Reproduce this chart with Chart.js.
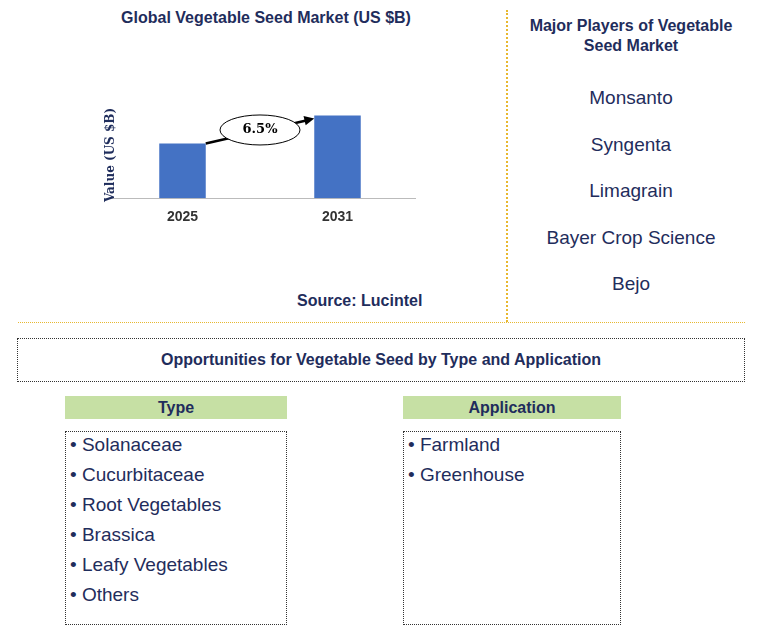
<!DOCTYPE html>
<html><head><meta charset="utf-8">
<script src="https://cdn.jsdelivr.net/npm/chart.js@4/dist/chart.umd.min.js"></script>
<style>
body{margin:0;width:759px;height:634px;position:relative;background:#fff;font-family:Arial,"Liberation Sans",sans-serif;overflow:hidden}
.a{position:absolute}
.t{color:#1f2d5c;font-weight:bold}
.list{border:1px dotted #333;box-sizing:border-box;padding:0 0 0 4px;font-size:19px;color:#1f2d5c;line-height:30px}
.list div{margin-top:-2px}
.hd{background:#c6e0a4;text-align:center;font-weight:bold;font-size:16px;color:#1f2d5c;line-height:23px}
.pl{width:250px;left:506px;text-align:center;font-size:19px;color:#1f2d5c}
</style></head><body>
<div class="a t" style="left:0;width:532px;top:9px;text-align:center;font-size:16px">Global Vegetable Seed Market (US $B)</div>
<div class="a" style="left:0;top:0;width:500px;height:240px"><canvas id="c"></canvas></div>
<div class="a" style="left:50px;top:148px;width:120px;transform:rotate(-90deg);font-family:'DejaVu Serif',serif;font-weight:bold;font-size:12px;color:#1f2d5c;text-align:center;white-space:nowrap">Value (US $B)</div>
<div class="a t" style="left:297px;top:292px;font-size:16px">Source: Lucintel</div>
<div class="a" style="left:506px;top:10px;height:312px;border-left:2px dotted #e8b830"></div>
<div class="a" style="left:18px;top:322px;width:727px;border-top:1px dotted #e8b830"></div>
<div class="a t" style="left:506px;width:250px;top:16px;text-align:center;font-size:16px;line-height:20px">Major Players of Vegetable<br>Seed Market</div>
<div class="a t" style="left:17px;top:338px;width:728px;height:44px;border:1px dotted #333;box-sizing:border-box;text-align:center;line-height:42px;font-size:16px">Opportunities for Vegetable Seed by Type and Application</div>
<div class="a hd" style="left:65px;top:396px;width:222px">Type</div>
<div class="a hd" style="left:403px;top:396px;width:218px">Application</div>
<div class="a list" style="left:65px;top:431px;width:222px;height:194px"><div id="types"></div></div>
<div class="a list" style="left:403px;top:431px;width:218px;height:194px"><div id="apps"></div></div>
<script>
const years = ["2025", "2031"];
const marketValues = [3.9, 5.9];
const cagrLabel = "6.5%";
const players = ["Monsanto", "Syngenta", "Limagrain", "Bayer Crop Science", "Bejo"];
const types = ["Solanaceae", "Cucurbitaceae", "Root Vegetables", "Brassica", "Leafy Vegetables", "Others"];
const applications = ["Farmland", "Greenhouse"];

players.forEach((p, i) => {
  const d = document.createElement("div");
  d.className = "a pl";
  d.style.top = (87 + i * 46.5) + "px";
  d.textContent = p;
  document.body.appendChild(d);
});
document.getElementById("types").innerHTML = types.map(t => "• " + t).join("<br>");
document.getElementById("apps").innerHTML = applications.map(t => "• " + t).join("<br>");

// CAGRの楕円と矢印
const cagrPlugin = {
  id: "cagr",
  afterDatasetsDraw(chart) {
    const ctx = chart.ctx;
    const meta = chart.getDatasetMeta(0);
    const b0 = meta.data[0], b1 = meta.data[1];
    const x0 = b0.x + b0.width / 2, y0 = b0.y;
    const x1 = b1.x - b1.width / 2, y1 = b1.y + 3;
    ctx.save();
    ctx.strokeStyle = "#000"; ctx.fillStyle = "#000"; ctx.lineWidth = 2.5;
    ctx.beginPath(); ctx.moveTo(x0, y0); ctx.lineTo(x1 - 8, y1 + 2); ctx.stroke();
    const ang = Math.atan2(y1 - y0, x1 - x0);
    ctx.beginPath();
    ctx.moveTo(x1, y1);
    ctx.lineTo(x1 - 11 * Math.cos(ang - 0.45), y1 - 11 * Math.sin(ang - 0.45));
    ctx.lineTo(x1 - 11 * Math.cos(ang + 0.45), y1 - 11 * Math.sin(ang + 0.45));
    ctx.fill();
    const cx = (x0 + x1) / 2, cy = (y0 + y1) / 2 - 1;
    ctx.beginPath(); ctx.ellipse(cx, cy, 40, 15, 0, 0, Math.PI * 2);
    ctx.fillStyle = "#fff"; ctx.fill(); ctx.lineWidth = 1; ctx.stroke();
    ctx.fillStyle = "#000"; ctx.font = "bold 13px 'DejaVu Serif', serif";
    ctx.textAlign = "center"; ctx.textBaseline = "middle";
    ctx.fillText(cagrLabel, cx, cy);
    ctx.restore();
  }
};

new Chart(document.getElementById("c"), {
  type: "bar",
  data: { labels: years, datasets: [{ data: marketValues, backgroundColor: "#4472c4", barPercentage: 0.6, categoryPercentage: 0.5 }] },
  options: {
    responsive: true, maintainAspectRatio: false, animation: false,
    layout: { padding: { left: 105, right: 85, top: 86, bottom: 11 } },
    plugins: { legend: { display: false }, tooltip: { enabled: false } },
    scales: {
      x: { grid: { display: false }, border: { color: "#bbb" },
           ticks: { color: "#333", font: { weight: "bold", size: 14, family: "Arial" } } },
      y: { display: false, min: 0, max: 8 }
    }
  },
  plugins: [cagrPlugin]
});
</script>
</body></html>
